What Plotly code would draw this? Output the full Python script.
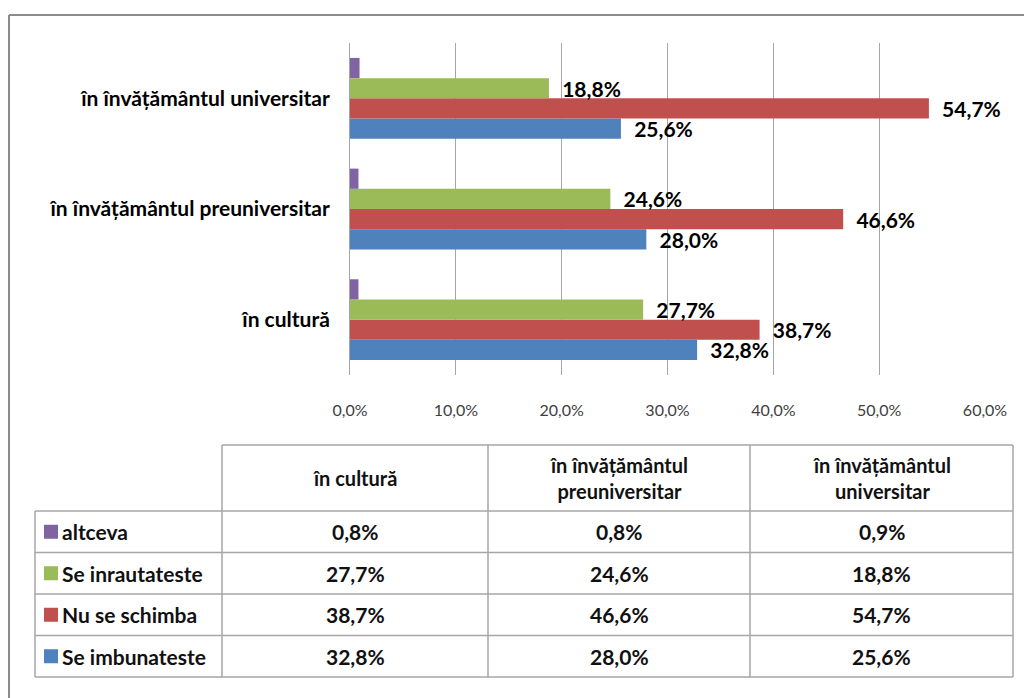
import plotly.graph_objects as go

# ---- data ----
categories = ["în cultură", "în învățământul preuniversitar", "în învățământul universitar"]
series_names = ["Se imbunateste", "Nu se schimba", "Se inrautateste", "altceva"]
se_imbunateste = [32.8, 28.0, 25.6]
nu_se_schimba = [38.7, 46.6, 54.7]
se_inrautateste = [27.7, 24.6, 18.8]
altceva = [0.8, 0.8, 0.9]
series_values = [se_imbunateste, nu_se_schimba, se_inrautateste, altceva]
series_colors = ["#4F81BD", "#C0504D", "#9BBB59", "#8064A2"]
show_labels = [True, True, True, False]
x_ticks = [0, 10, 20, 30, 40, 50, 60]
x_tick_labels = ["0,0%", "10,0%", "20,0%", "30,0%", "40,0%", "50,0%", "60,0%"]
table_headers = ["în cultură", "în învățământul<br>preuniversitar", "în învățământul<br>universitar"]

W, H = 1024, 698
FONT = "Lato"
GRID = "#A6A6A6"
TXT = "#111111"

def px(x):
    return x / W

def py(y):
    return 1 - y / H

fig = go.Figure()
for name, vals, col, lab in zip(series_names, series_values, series_colors, show_labels):
    fig.add_trace(go.Bar(
        y=categories, x=vals, name=name, orientation="h",
        marker=dict(color=col, line=dict(width=0)),
        texttemplate="  %{x:.1f}%" if lab else "",
        textposition="outside", cliponaxis=False, constraintext="none",
        textfont=dict(family=FONT, size=21, color="#000000", weight="bold"),
        showlegend=False, hoverinfo="skip",
    ))

# ---- data table (drawn with shapes + annotations) ----
def fmt(v):
    return f"{v:.1f}%".replace(".", ",")

col_edges = [35, 222, 488, 750, 1013]          # label column + 3 category columns
header_top, header_bottom = 445, 511
row_h = 41.5
row_order = [3, 2, 1, 0]                       # altceva, Se inrautateste, Nu se schimba, Se imbunateste
row_edges = [header_bottom + i * row_h for i in range(len(row_order) + 1)]
table_bottom = row_edges[-1]
TFS = 21

shapes = []
def hline(y, x0, x1):
    shapes.append(dict(type="line", xref="paper", yref="paper", x0=px(x0), x1=px(x1),
                       y0=py(y), y1=py(y), line=dict(color=GRID, width=1.5)))
def vline(x, y0, y1):
    shapes.append(dict(type="line", xref="paper", yref="paper", x0=px(x), x1=px(x),
                       y0=py(y0), y1=py(y1), line=dict(color=GRID, width=1.5)))

hline(header_top, col_edges[1], col_edges[-1])
for y in row_edges:
    hline(y, col_edges[0], col_edges[-1])
vline(col_edges[0], header_bottom, table_bottom)
for x in col_edges[1:]:
    vline(x, header_top, table_bottom)

annotations = []
for c, head in enumerate(table_headers):
    annotations.append(dict(
        xref="paper", yref="paper",
        x=px((col_edges[c + 1] + col_edges[c + 2]) / 2), y=py((header_top + header_bottom) / 2),
        text=head, showarrow=False, xanchor="center", yanchor="middle", align="center",
        font=dict(family=FONT, size=TFS - 1, color=TXT, weight="bold"),
    ))
for r, si in enumerate(row_order):
    yc = (row_edges[r] + row_edges[r + 1]) / 2
    shapes.append(dict(type="rect", xref="paper", yref="paper",
                       x0=px(col_edges[0] + 9), x1=px(col_edges[0] + 23),
                       y0=py(yc - 7), y1=py(yc + 7),
                       fillcolor=series_colors[si], line=dict(width=0)))
    annotations.append(dict(
        xref="paper", yref="paper", x=px(col_edges[0] + 25), y=py(yc),
        text=series_names[si], showarrow=False, xanchor="left", yanchor="middle",
        font=dict(family=FONT, size=TFS, color=TXT, weight="bold"),
    ))
    for c in range(len(categories)):
        annotations.append(dict(
            xref="paper", yref="paper",
            x=px((col_edges[c + 1] + col_edges[c + 2]) / 2), y=py(yc),
            text=fmt(series_values[si][c]), showarrow=False, xanchor="center", yanchor="middle",
            font=dict(family=FONT, size=TFS, color=TXT, weight="bold"),
        ))

# outer frame
shapes.append(dict(type="line", xref="paper", yref="paper", x0=px(9), x1=1, y0=py(15), y1=py(15),
                   line=dict(color="#8C8C8C", width=2)))
shapes.append(dict(type="line", xref="paper", yref="paper", x0=px(9), x1=px(9), y0=py(15), y1=0,
                   line=dict(color="#8C8C8C", width=2)))

fig.update_layout(
    width=W, height=H, autosize=False,
    margin=dict(l=0, r=0, t=0, b=0, pad=0, autoexpand=False),
    paper_bgcolor="white", plot_bgcolor="white",
    separators=",.",
    barmode="group", bargap=0.27, bargroupgap=0,
    showlegend=False,
    xaxis=dict(
        domain=[px(350), px(985)], range=[0, 60],
        tickvals=x_ticks, ticktext=x_tick_labels,
        showgrid=True, gridcolor=GRID, gridwidth=1,
        zeroline=False, showline=False, ticks="",
        ticklabelstandoff=24, automargin=False,
        tickfont=dict(family=FONT, size=16, color="#404040"),
        fixedrange=True,
    ),
    yaxis=dict(
        domain=[py(375), py(43)],
        categoryorder="array", categoryarray=categories,
        showline=True, linecolor=GRID, linewidth=1,
        showgrid=False, ticks="", ticklabelstandoff=15, automargin=False,
        tickfont=dict(family=FONT, size=21, color="#000000", weight="bold"),
        fixedrange=True,
    ),
    shapes=shapes,
    annotations=annotations,
)

fig.write_html(
    "out.html",
    config={"displayModeBar": False, "responsive": False},
    post_script="document.body.style.margin='0';document.body.style.overflow='hidden';",
)
